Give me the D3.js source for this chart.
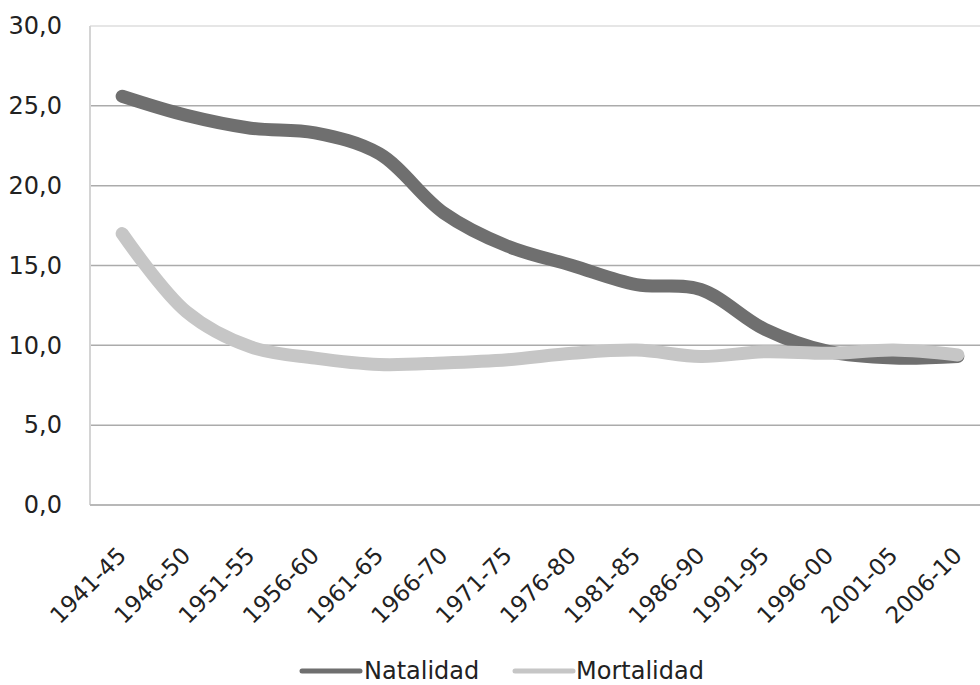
<!DOCTYPE html>
<html>
<head>
<meta charset="utf-8">
<script src="https://cdn.jsdelivr.net/npm/d3@7"></script>
<style>
  html, body { margin: 0; padding: 0; background: #fff; }
  svg { display: block; }
  text { font-family: "DejaVu Sans", sans-serif; fill: #222; }
</style>
</head>
<body>
<svg id="chart" width="980" height="685"></svg>
<script>
// Periods (quinquennia)
const periods = ["1941-45","1946-50","1951-55","1956-60","1961-65","1966-70","1971-75",
                 "1976-80","1981-85","1986-90","1991-95","1996-00","2001-05","2006-10"];
// Crude birth rate (per 1000)
const natalidad = [25.6, 24.4, 23.6, 23.3, 22.0, 18.3, 16.2, 15.0, 13.8, 13.5, 11.0, 9.6, 9.2, 9.3];
// Crude death rate (per 1000)
const mortalidad = [17.0, 12.1, 9.9, 9.2, 8.8, 8.9, 9.1, 9.5, 9.7, 9.3, 9.6, 9.5, 9.7, 9.4];
// Y axis ticks
const yTicks = [0, 5, 10, 15, 20, 25, 30];
const yTickLabels = ["0,0", "5,0", "10,0", "15,0", "20,0", "25,0", "30,0"];

const series = [
  { name: "Natalidad", values: natalidad, color: "#6f6f6f" },
  { name: "Mortalidad", values: mortalidad, color: "#c6c6c6" }
];

const svg = d3.select("#chart");
const plot = { left: 90, right: 990, top: 26, bottom: 505 };

const x = d3.scalePoint().domain(periods).range([plot.left, plot.right]).padding(0.5);
const y = d3.scaleLinear().domain([0, 30]).range([plot.bottom, plot.top]);

// Horizontal gridlines
svg.append("g")
  .selectAll("line")
  .data(yTicks.filter(t => t > 0))
  .join("line")
  .attr("x1", plot.left).attr("x2", 980)
  .attr("y1", d => y(d)).attr("y2", d => y(d))
  .attr("stroke", d => d === 30 ? "#dedede" : "#ababab")
  .attr("stroke-width", 1.5);

// Y axis (labels only, plus light axis line)
const yAxis = d3.axisLeft(y).tickValues(yTicks)
  .tickFormat((d, i) => yTickLabels[i]).tickSize(0).tickPadding(28);
const gy = svg.append("g").attr("transform", `translate(${plot.left},0)`).call(yAxis);
gy.select(".domain").remove();
gy.selectAll("text").style("font-size", "24px").attr("fill", "#2a2a2a")
  .style("font-family", "'DejaVu Sans', sans-serif");

svg.append("line")
  .attr("x1", plot.left).attr("x2", plot.left)
  .attr("y1", plot.top).attr("y2", plot.bottom)
  .attr("stroke", "#d4d4d4").attr("stroke-width", 2);

// X axis line
svg.append("line")
  .attr("x1", plot.left).attr("x2", 980)
  .attr("y1", plot.bottom).attr("y2", plot.bottom)
  .attr("stroke", "#b8b8b8").attr("stroke-width", 2);

// X axis labels, rotated
const xAxis = d3.axisBottom(x).tickSize(0).tickPadding(0);
const gx = svg.append("g").attr("transform", `translate(0,${plot.bottom})`).call(xAxis);
gx.select(".domain").remove();
gx.selectAll("text")
  .style("font-size", "23px").attr("fill", "#2a2a2a")
  .style("font-family", "'DejaVu Sans', sans-serif")
  .attr("text-anchor", "end")
  .attr("dy", 0).attr("y", 0)
  .attr("transform", "translate(5,52) rotate(-45)");

// Lines
const line = d3.line()
  .x((d, i) => x(periods[i]))
  .y(d => y(d))
  .curve(d3.curveCatmullRom.alpha(0.5));

svg.append("g")
  .selectAll("path")
  .data(series)
  .join("path")
  .attr("d", d => line(d.values))
  .attr("fill", "none")
  .attr("stroke", d => d.color)
  .attr("stroke-width", 13)
  .attr("stroke-linecap", "round")
  .attr("stroke-linejoin", "round");

// Legend
const legendItems = [
  { s: series[0], x1: 302, x2: 360, tx: 364 },
  { s: series[1], x1: 515, x2: 573, tx: 576 }
];
const lg = svg.append("g");
legendItems.forEach(it => {
  lg.append("line")
    .attr("x1", it.x1).attr("x2", it.x2).attr("y1", 671).attr("y2", 671)
    .attr("stroke", it.s.color).attr("stroke-width", 5).attr("stroke-linecap", "round");
  lg.append("text")
    .attr("x", it.tx).attr("y", 679)
    .style("font-size", "24px").attr("fill", "#2a2a2a")
    .text(it.s.name);
});
</script>
</body>
</html>
